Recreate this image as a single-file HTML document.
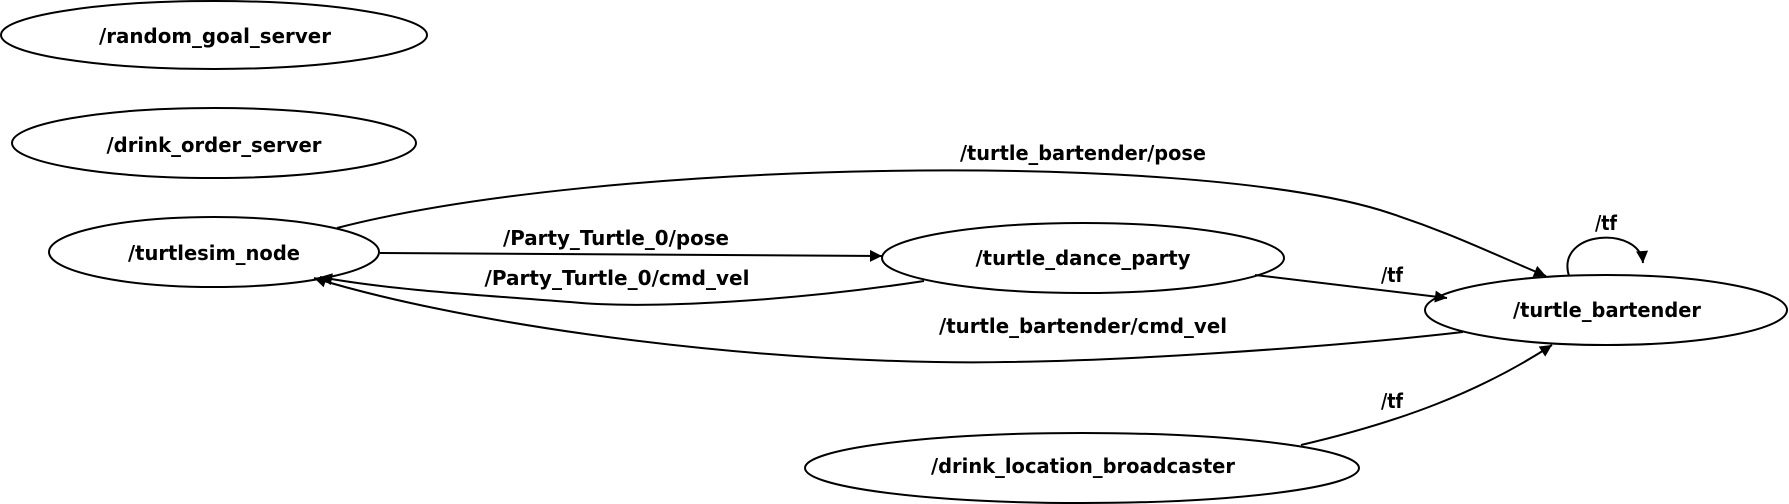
<!DOCTYPE html>
<html><head><meta charset="utf-8"><style>
html,body{margin:0;padding:0;background:#fff;}
svg{display:block}
text{font-family:"DejaVu Sans","Liberation Sans",sans-serif;font-weight:bold;font-size:20px;fill:#000;text-anchor:middle}
</style></head><body>
<svg width="1789" height="504" viewBox="0 0 1789 504" xmlns="http://www.w3.org/2000/svg">
<defs>
<marker id="a" viewBox="0 0 10 10" refX="10" refY="5" markerWidth="16" markerHeight="12" markerUnits="userSpaceOnUse" orient="auto">
<path d="M0,0 L10,5 L0,10 z" fill="#000"/>
</marker>
</defs>
<g fill="none" stroke="#000" stroke-width="2">
<ellipse cx="214" cy="35" rx="213" ry="34"/>
<ellipse cx="214" cy="143" rx="202" ry="35"/>
<ellipse cx="214" cy="252" rx="165" ry="35"/>
<ellipse cx="1083" cy="258" rx="201" ry="35"/>
<ellipse cx="1606" cy="310" rx="181" ry="35"/>
<ellipse cx="1082" cy="468" rx="277" ry="35"/>
<path d="M337,228 C600,160 1180,150 1380,210 C1450,232 1495,255 1546,276" marker-end="url(#a)"/>
<path d="M380,253 L882,256" marker-end="url(#a)"/>
<path d="M924,281 C800,300 650,310 570,302 C480,295 390,290 320,277" marker-end="url(#a)"/>
<path d="M1463,332 C1350,345 1100,365 936,362 C700,358 450,320 314,278" marker-end="url(#a)"/>
<path d="M1255,275 L1447,298" marker-end="url(#a)"/>
<path d="M1569,276 C1555,230 1640,225 1643,263" marker-end="url(#a)"/>
<path d="M1301,445 C1400,422 1480,392 1552,345" marker-end="url(#a)"/>
</g>
<text x="215" y="43" textLength="232" lengthAdjust="spacingAndGlyphs">/random_goal_server</text>
<text x="214" y="152" textLength="215" lengthAdjust="spacingAndGlyphs">/drink_order_server</text>
<text x="214" y="260" textLength="172" lengthAdjust="spacingAndGlyphs">/turtlesim_node</text>
<text x="1083" y="265" textLength="215" lengthAdjust="spacingAndGlyphs">/turtle_dance_party</text>
<text x="1607" y="317" textLength="188" lengthAdjust="spacingAndGlyphs">/turtle_bartender</text>
<text x="1083" y="473" textLength="304" lengthAdjust="spacingAndGlyphs">/drink_location_broadcaster</text>
<text x="1083" y="160" textLength="246" lengthAdjust="spacingAndGlyphs">/turtle_bartender/pose</text>
<text x="616" y="245" textLength="226" lengthAdjust="spacingAndGlyphs">/Party_Turtle_0/pose</text>
<text x="617" y="285" textLength="265" lengthAdjust="spacingAndGlyphs">/Party_Turtle_0/cmd_vel</text>
<text x="1392" y="282" textLength="22" lengthAdjust="spacingAndGlyphs">/tf</text>
<text x="1606" y="230" textLength="22" lengthAdjust="spacingAndGlyphs">/tf</text>
<text x="1083" y="333" textLength="288" lengthAdjust="spacingAndGlyphs">/turtle_bartender/cmd_vel</text>
<text x="1392" y="408" textLength="22" lengthAdjust="spacingAndGlyphs">/tf</text>
</svg>
</body></html>
